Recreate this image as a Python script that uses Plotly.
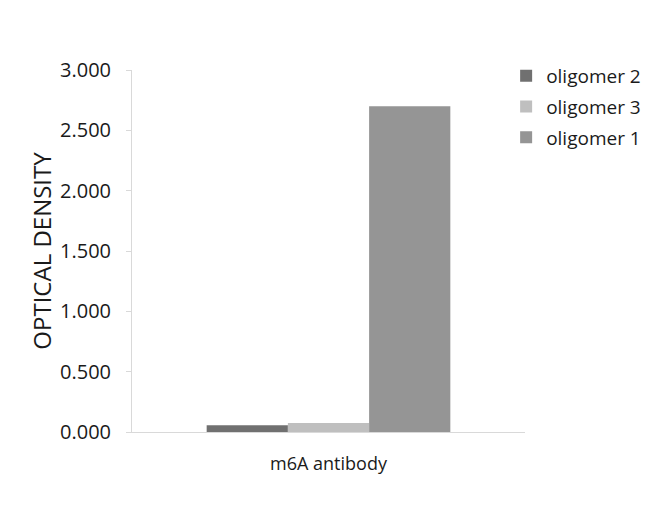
import plotly.graph_objects as go

category = ["m6A antibody"]
series_names = ["oligomer 2", "oligomer 3", "oligomer 1"]
series_values = [[0.055], [0.075], [2.70]]
series_colors = ["#707070", "#bfbfbf", "#959595"]

fig = go.Figure()
for name, vals, col in zip(series_names, series_values, series_colors):
    fig.add_trace(go.Bar(x=category, y=vals, name=name, marker_color=col,
                         marker_line_width=0, legendgroup=name))

font = "Open Sans, Noto Sans, sans-serif"
fig.update_layout(
    width=650, height=532,
    margin=dict(l=124, r=131, t=62, b=108),
    plot_bgcolor="white", paper_bgcolor="white",
    barmode="group", bargap=0.38, bargroupgap=0,
    font=dict(family=font, color="#1a1a1a", size=18),
    legend=dict(x=0.952, xanchor="left",
                y=1.036, yanchor="top",
                font=dict(size=19), tracegroupgap=3, itemwidth=30,
                bgcolor="rgba(0,0,0,0)"),
    showlegend=True,
)
fig.update_xaxes(showline=True, linecolor="#d9d9d9", linewidth=1,
                 showgrid=False, ticks="", ticklabelstandoff=15,
                 tickfont=dict(size=18))
fig.update_yaxes(range=[0, 3], dtick=0.5, tickformat=".3f",
                 showline=True, linecolor="#d9d9d9", linewidth=1,
                 showgrid=False, ticks="outside", ticklen=5, tickcolor="#d9d9d9",
                 zeroline=False, tickfont=dict(size=20), ticklabelstandoff=11,
                 title=dict(text="OPTICAL DENSITY", font=dict(size=24), standoff=1))
fig.write_html("out.html")
